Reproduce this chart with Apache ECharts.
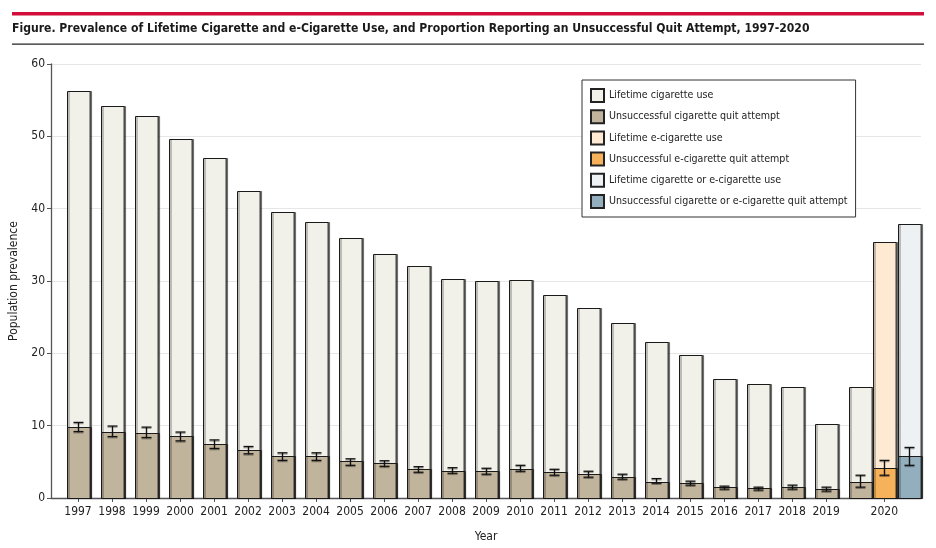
<!DOCTYPE html>
<html>
<head>
<meta charset="utf-8">
<script src="https://cdn.jsdelivr.net/npm/echarts@6/dist/echarts.min.js"></script>
<style>
html,body{margin:0;padding:0;background:#fff;}
#chart{width:936px;height:548px;}
</style>
</head>
<body>
<div id="chart"></div>
<script>
// ---- data ----
const years = ['1997','1998','1999','2000','2001','2002','2003','2004','2005','2006','2007','2008','2009','2010','2011','2012','2013','2014','2015','2016','2017','2018','2019','2020'];
const lifetimeCig = [56.2,54.2,52.8,49.6,47.0,42.5,39.5,38.1,35.9,33.7,32.05,30.3,30.0,30.1,28.1,26.2,24.2,21.6,19.8,16.5,15.7,15.4,10.2,15.3];
const quitCig     = [9.86,9.18,9.04,8.53,7.4,6.57,5.75,5.75,5.07,4.79,3.97,3.79,3.7,3.97,3.56,3.29,2.88,2.27,2.05,1.5,1.37,1.5,1.23,2.19];
const quitCigLo   = [9.18,8.49,8.36,7.9,6.85,6.11,5.2,5.2,4.52,4.38,3.56,3.42,3.29,3.7,3.15,2.88,2.6,2.05,1.78,1.23,1.1,1.23,0.96,1.5];
const quitCigHi   = [10.45,9.95,9.8,9.12,8.03,7.12,6.25,6.25,5.42,5.15,4.33,4.19,4.11,4.52,3.97,3.7,3.29,2.68,2.33,1.64,1.5,1.78,1.5,3.15];
const lifetimeEcig = [35.4];
const quitEcig = [4.11], quitEcigLo = [3.15], quitEcigHi = [5.2];
const lifetimeAny = [37.9];
const quitAny = [5.75], quitAnyLo = [4.52], quitAnyHi = [6.99];
const yTicks = [0,10,20,30,40,50,60];

// ---- layout ----
const slot2020 = [0, 0.71, 1.44]; // offsets of the three 2020 bars from the 2020 slot
const labelPos2020 = 2020.71;
const BW = 22.6;

const cigX = years.map((y)=> y==='2020' ? 2020 + slot2020[0] : Number(y));
const ecigX = [2020 + slot2020[1]];
const anyX = [2020 + slot2020[2]];

const colors = {
  lifeCig:'#f2f1e9', quitCig:'#c1b49c',
  lifeEcig:'#fee9d2', quitEcig:'#f6b25a',
  lifeAny:'#edf1f4', quitAny:'#93afbd'
};
const FONT = "'DejaVu Sans Condensed','Liberation Sans Narrow','Liberation Sans',sans-serif";

function rectShape(api, x, v){
  const p0 = api.coord([x,0]), p1 = api.coord([x,v]);
  return {x:Math.round(p0[0]-BW/2)+0.5, y:Math.round(p1[1])+0.5, width:BW, height:Math.round(p0[1])-Math.round(p1[1])};
}
function barRender(fill){
  return function(params, api){
    const x = api.value(0), v = api.value(1);
    return {type:'rect', shape:rectShape(api,x,v),
      style:{fill:fill, stroke:'#1a1a1a', lineWidth:1, shadowColor:'rgba(0,0,0,0.45)', shadowOffsetX:1.5, shadowOffsetY:0, shadowBlur:0}};
  };
}
function quitRender(fill){
  return function(params, api){
    const x = api.value(0), v = api.value(1), lo = api.value(2), hi = api.value(3);
    const p0 = api.coord([x,0]);
    const pl = api.coord([x,lo]), ph = api.coord([x,hi]);
    const cx = Math.round(p0[0])+0.5, cw = 5;
    const ls = {stroke:'#111', lineWidth:1.3, shadowColor:'rgba(0,0,0,0.35)', shadowOffsetY:1.2, shadowBlur:0};
    return {type:'group', children:[
      {type:'rect', shape:rectShape(api,x,v),
        style:{fill:fill, stroke:'#1a1a1a', lineWidth:1, shadowColor:'rgba(0,0,0,0.45)', shadowOffsetX:1.5, shadowBlur:0}},
      {type:'line', shape:{x1:cx, y1:ph[1], x2:cx, y2:pl[1]}, style:ls},
      {type:'line', shape:{x1:cx-cw, y1:ph[1], x2:cx+cw, y2:ph[1]}, style:ls},
      {type:'line', shape:{x1:cx-cw, y1:pl[1], x2:cx+cw, y2:pl[1]}, style:ls}
    ]};
  };
}

function mk(name, fill, xs, vals, los, his, z){
  const data = xs.map((x,i)=> los ? [x, vals[i], los[i], his[i]] : [x, vals[i]]);
  return {
    type:'custom', name:name, data:data, z:z,
    encode:{x:0, y:1},
    itemStyle:{color:fill, borderColor:'#222', borderWidth:1},
    renderItem: los ? quitRender(fill) : barRender(fill),
    silent:true
  };
}

const xLabelVals = years.map(y=> y==='2020' ? labelPos2020 : Number(y));

const chart = echarts.init(document.getElementById('chart'), null, {renderer:'canvas'});
chart.setOption({
  animation:false,
  backgroundColor:'#fff',
  title:{
    text:'Figure. Prevalence of Lifetime Cigarette and e-Cigarette Use, and Proportion Reporting an Unsuccessful Quit Attempt, 1997-2020',
    left:12, top:23, padding:0,
    textStyle:{fontFamily:FONT, fontSize:12.1, fontWeight:'bold', color:'#1a1a1a'}
  },
  graphic:[
    {type:'rect', shape:{x:12, y:12, width:912, height:3.5}, style:{fill:'#d20f3a'}},
    {type:'rect', shape:{x:12, y:43.5, width:912, height:1.3}, style:{fill:'#222'}}
  ],
  legend:{
    orient:'vertical', left:582, top:80,
    padding:[8,8,8,8],
    itemWidth:13, itemHeight:13, itemGap:6.2,
    backgroundColor:'#fff', borderColor:'#333', borderWidth:1, borderRadius:0,
    icon:'rect',
    textStyle:{fontFamily:FONT, fontSize:10.6, lineHeight:13, color:'#222', padding:[0,0,0,0]},
    data:['Lifetime cigarette use','Unsuccessful cigarette quit attempt','Lifetime e-cigarette use','Unsuccessful e-cigarette quit attempt','Lifetime cigarette or e-cigarette use','Unsuccessful cigarette or e-cigarette quit attempt']
  },
  grid:{left:51, right:15, top:64, bottom:46, containLabel:false},
  xAxis:{
    type:'value', min:1996.206, max:2021.79,
    name:'Year', nameLocation:'middle', nameGap:33,
    nameTextStyle:{fontFamily:FONT, fontSize:12, color:'#222'},
    axisLine:{show:true, lineStyle:{color:'#555', width:1.3}},
    axisTick:{show:true, length:4, customValues:xLabelVals, lineStyle:{color:'#555'}},
    axisLabel:{customValues:xLabelVals, margin:8, fontFamily:FONT, fontSize:12, color:'#222',
      formatter:function(v){ return v>2020.2 ? '2020' : String(Math.round(v)); }},
    splitLine:{show:false}
  },
  yAxis:{
    type:'value', min:0, max:60, interval:10,
    name:'Population prevalence', nameLocation:'middle', nameGap:31, nameRotate:90,
    nameTextStyle:{fontFamily:FONT, fontSize:12, color:'#222'},
    axisLine:{show:true, lineStyle:{color:'#555', width:1.3}},
    axisTick:{show:true, length:4, lineStyle:{color:'#555'}},
    axisLabel:{margin:6, fontFamily:FONT, fontSize:12, color:'#222',
      formatter:function(v){ return yTicks.indexOf(v)>=0 ? String(v) : ''; }},
    splitLine:{show:true, lineStyle:{color:'#e6e6e6', width:1}}
  },
  series:[
    mk('Lifetime cigarette use', colors.lifeCig, cigX, lifetimeCig, null, null, 2),
    mk('Unsuccessful cigarette quit attempt', colors.quitCig, cigX, quitCig, quitCigLo, quitCigHi, 3),
    mk('Lifetime e-cigarette use', colors.lifeEcig, ecigX, lifetimeEcig, null, null, 2),
    mk('Unsuccessful e-cigarette quit attempt', colors.quitEcig, ecigX, quitEcig, quitEcigLo, quitEcigHi, 3),
    mk('Lifetime cigarette or e-cigarette use', colors.lifeAny, anyX, lifetimeAny, null, null, 2),
    mk('Unsuccessful cigarette or e-cigarette quit attempt', colors.quitAny, anyX, quitAny, quitAnyLo, quitAnyHi, 3)
  ]
});
</script>
</body>
</html>
